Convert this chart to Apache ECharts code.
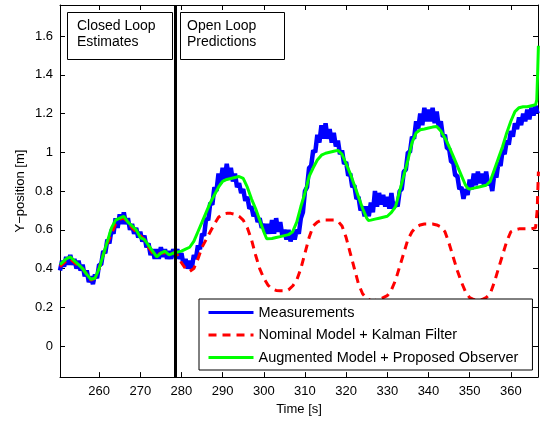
<!DOCTYPE html>
<html>
<head>
  <meta charset="UTF-8">
  <title>Y-position: measurements vs observers</title>
  <style>
    * { margin: 0; padding: 0; }
    html, body { width: 541px; height: 421px; background: #fff; }
    #chart { width: 541px; height: 421px; }
  </style>
</head>
<body>
  <div id="chart"></div>
  <script src="https://cdn.jsdelivr.net/npm/echarts@6/dist/echarts.min.js"></script>
  <script>
    // axis ticks
    const xTicks = [260, 270, 280, 290, 300, 310, 320, 330, 340, 350, 360];
    const yTicks = [0, 0.2, 0.4, 0.6, 0.8, 1, 1.2, 1.4, 1.6];
    const switchTime = 278.5; // closed loop -> open loop

    // measured Y-position [t, y] (noisy, sampled every 0.5 s)
    const measurements = [
      [250.5, 0.39],
      [251, 0.44], [251.5, 0.41], [252, 0.46], [252.5, 0.42], [253, 0.47], [253.5, 0.42],
      [254, 0.45], [254.5, 0.40], [255, 0.44], [255.5, 0.39], [256, 0.42], [256.5, 0.36],
      [257, 0.39], [257.5, 0.33], [258, 0.36], [258.5, 0.32], [259, 0.37], [259.5, 0.35],
      [260, 0.42], [260.5, 0.42], [261, 0.49], [261.5, 0.48], [262, 0.55], [262.5, 0.53],
      [263, 0.60], [263.5, 0.58], [264, 0.66], [264.5, 0.61], [265, 0.68], [265.5, 0.63],
      [266, 0.69], [266.5, 0.63], [267, 0.66], [267.5, 0.60], [268, 0.63], [268.5, 0.58],
      [269, 0.61], [269.5, 0.56], [270, 0.59], [270.5, 0.54], [271, 0.57], [271.5, 0.51],
      [272, 0.53], [272.5, 0.47], [273, 0.50], [273.5, 0.45], [274, 0.50], [274.5, 0.45],
      [275, 0.51], [275.5, 0.46], [276, 0.50], [276.5, 0.45], [277, 0.49], [277.5, 0.45],
      [278, 0.50], [278.5, 0.46], [279, 0.50], [279.5, 0.45], [280, 0.48], [280.5, 0.42],
      [281, 0.45], [281.5, 0.40], [282, 0.44], [282.5, 0.40], [283, 0.47], [283.5, 0.45],
      [284, 0.52], [284.5, 0.50], [285, 0.58], [285.5, 0.57], [286, 0.66], [286.5, 0.65],
      [287, 0.74], [287.5, 0.73], [288, 0.82], [288.5, 0.80], [289, 0.89], [289.5, 0.84],
      [290, 0.92], [290.5, 0.86], [291, 0.94], [291.5, 0.87], [292, 0.92], [292.5, 0.85],
      [293, 0.89], [293.5, 0.82], [294, 0.84], [294.5, 0.79], [295, 0.81], [295.5, 0.75],
      [296, 0.77], [296.5, 0.71], [297, 0.72], [297.5, 0.67], [298, 0.69], [298.5, 0.64],
      [299, 0.66], [299.5, 0.61], [300, 0.63], [300.5, 0.58], [301, 0.63], [301.5, 0.58],
      [302, 0.65], [302.5, 0.58], [303, 0.66], [303.5, 0.59], [304, 0.64], [304.5, 0.57],
      [305, 0.60], [305.5, 0.55], [306, 0.60], [306.5, 0.54], [307, 0.59], [307.5, 0.55],
      [308, 0.60], [308.5, 0.58], [309, 0.66], [309.5, 0.69], [310, 0.80], [310.5, 0.82],
      [311, 0.92], [311.5, 0.93], [312, 1.01], [312.5, 1.00], [313, 1.09], [313.5, 1.05],
      [314, 1.14], [314.5, 1.07], [315, 1.15], [315.5, 1.07], [316, 1.12], [316.5, 1.05],
      [317, 1.10], [317.5, 1.03], [318, 1.06], [318.5, 0.99], [319, 1.01], [319.5, 0.94],
      [320, 0.95], [320.5, 0.88], [321, 0.89], [321.5, 0.82], [322, 0.83], [322.5, 0.76],
      [323, 0.77], [323.5, 0.70], [324, 0.72], [324.5, 0.67], [325, 0.72], [325.5, 0.67],
      [326, 0.74], [326.5, 0.69], [327, 0.80], [327.5, 0.72], [328, 0.79], [328.5, 0.73],
      [329, 0.78], [329.5, 0.72], [330, 0.77], [330.5, 0.71], [331, 0.79], [331.5, 0.71],
      [332, 0.74], [332.5, 0.72], [333, 0.80], [333.5, 0.81], [334, 0.90], [334.5, 0.91],
      [335, 1.00], [335.5, 1.00], [336, 1.08], [336.5, 1.07], [337, 1.16], [337.5, 1.12],
      [338, 1.20], [338.5, 1.14], [339, 1.23], [339.5, 1.16], [340, 1.22], [340.5, 1.16],
      [341, 1.23], [341.5, 1.15], [342, 1.21], [342.5, 1.13], [343, 1.16], [343.5, 1.08],
      [344, 1.09], [344.5, 1.02], [345, 1.02], [345.5, 0.95], [346, 0.95], [346.5, 0.88],
      [347, 0.88], [347.5, 0.81], [348, 0.82], [348.5, 0.76], [349, 0.81], [349.5, 0.78],
      [350, 0.86], [350.5, 0.81], [351, 0.89], [351.5, 0.83], [352, 0.90], [352.5, 0.84],
      [353, 0.89], [353.5, 0.83], [354, 0.90], [354.5, 0.83], [355, 0.85], [355.5, 0.80],
      [356, 0.89], [356.5, 0.87], [357, 0.95], [357.5, 0.93], [358, 1.01], [358.5, 0.99],
      [359, 1.06], [359.5, 1.04], [360, 1.11], [360.5, 1.08], [361, 1.15], [361.5, 1.12],
      [362, 1.18], [362.5, 1.14], [363, 1.20], [363.5, 1.16], [364, 1.22], [364.5, 1.17],
      [365, 1.23], [365.5, 1.19], [366, 1.24], [366.5, 1.20]
    ];

    // nominal model + Kalman filter [t, y]
    const nominalKalman = [
      [250.5, 0.41], [252, 0.44], [253, 0.45], [254, 0.43], [256, 0.40], [257, 0.37],
      [258, 0.34], [259, 0.35], [260, 0.40], [261, 0.47], [262, 0.53], [263, 0.58],
      [264, 0.63], [265, 0.655], [266, 0.66], [267, 0.64], [268, 0.61], [269, 0.59],
      [270, 0.57], [271, 0.55], [272, 0.51], [273, 0.48], [274, 0.47], [275, 0.48],
      [276, 0.48], [277, 0.47], [278, 0.48], [279, 0.47], [280, 0.43], [281, 0.40],
      [282, 0.385], [283, 0.40], [284, 0.45], [285, 0.51], [286, 0.55], [287, 0.59],
      [288, 0.63], [289, 0.665], [290, 0.68], [291, 0.685], [292, 0.685], [293, 0.68],
      [294, 0.67], [295, 0.65], [296, 0.61], [297, 0.55], [298, 0.47], [299, 0.40],
      [300, 0.35], [301, 0.315], [302, 0.295], [303, 0.287], [304, 0.285], [305, 0.285],
      [306, 0.29], [307, 0.31], [308, 0.34], [309, 0.40], [310, 0.48], [311, 0.56],
      [312, 0.62], [313, 0.64], [314, 0.65], [315, 0.65], [316, 0.65], [317, 0.65],
      [318, 0.645], [319, 0.62], [320, 0.56], [321, 0.48], [322, 0.40], [323, 0.32],
      [324, 0.27], [325, 0.245], [326, 0.235], [327, 0.235], [328, 0.24], [329, 0.25],
      [330, 0.26], [331, 0.29], [332, 0.34], [333, 0.41], [334, 0.48], [335, 0.55],
      [336, 0.59], [337, 0.615], [338, 0.625], [339, 0.63], [340, 0.63], [341, 0.63],
      [342, 0.625], [343, 0.615], [344, 0.59], [345, 0.53], [346, 0.46], [347, 0.39],
      [348, 0.33], [349, 0.28], [350, 0.25], [351, 0.24], [352, 0.235], [353, 0.24],
      [354, 0.25], [355, 0.27], [356, 0.33], [357, 0.40], [358, 0.47], [359, 0.54],
      [360, 0.59], [361, 0.60], [362, 0.605], [363, 0.605], [364, 0.605], [365, 0.605],
      [366, 0.61], [366.4, 0.70], [366.7, 0.90]
    ];

    // augmented model + proposed observer [t, y]
    const augmentedObserver = [
      [250.5, 0.42], [252, 0.45], [253, 0.46], [254, 0.44], [255, 0.42], [256, 0.40],
      [257, 0.37], [258, 0.345], [259, 0.35], [260, 0.40], [261, 0.47], [262, 0.54],
      [263, 0.61], [264, 0.65], [265, 0.66], [266, 0.67], [267, 0.64], [268, 0.62],
      [269, 0.60], [270, 0.56], [271, 0.55], [272, 0.52], [273, 0.49], [274, 0.46],
      [275, 0.48], [276, 0.49], [277, 0.47], [278, 0.48], [279, 0.485], [280, 0.49],
      [281, 0.50], [282, 0.51], [283, 0.54], [284, 0.59], [285, 0.64], [286, 0.69],
      [287, 0.74], [288, 0.78], [289, 0.82], [290, 0.85], [291, 0.86], [292, 0.865],
      [293, 0.87], [294, 0.875], [295, 0.865], [296, 0.82], [297, 0.76], [298, 0.71],
      [299, 0.65], [300, 0.59], [300.7, 0.554], [302, 0.555], [303, 0.56], [304, 0.565],
      [305, 0.57], [306, 0.575], [307, 0.59], [308, 0.64], [309, 0.72], [310, 0.79],
      [311, 0.875], [312, 0.92], [313, 0.96], [314, 0.985], [315, 0.995], [316, 1.0],
      [317, 1.005], [318, 1.01], [319, 0.99], [319.7, 0.955], [320, 0.94], [321, 0.89],
      [322, 0.83], [323, 0.77], [324, 0.71], [325, 0.66], [325.4, 0.648], [326, 0.65],
      [327, 0.655], [328, 0.66], [329, 0.665], [330, 0.67], [331, 0.69], [332, 0.72],
      [333, 0.80], [334, 0.88], [335, 0.96], [336, 1.05], [337, 1.10], [338, 1.116],
      [339, 1.12], [340, 1.125], [341, 1.13], [342, 1.133], [343, 1.11], [344, 1.074],
      [345, 1.03], [346, 0.98], [347, 0.93], [348, 0.88], [349, 0.83], [349.5, 0.815],
      [350, 0.81], [351, 0.815], [352, 0.82], [353, 0.825], [354, 0.83], [355, 0.85],
      [356, 0.91], [357, 0.97], [358, 1.03], [359, 1.10], [360, 1.16], [361, 1.21],
      [362, 1.23], [363, 1.235], [364, 1.235], [365, 1.24], [366, 1.245], [366.3, 1.27],
      [366.5, 1.40], [366.7, 1.55]
    ];

    const chart = echarts.init(document.getElementById('chart'), null, { renderer: 'canvas' });

    const font = 'Arial';
    const tickCommon = {
      axisLine: { show: true, onZero: false, lineStyle: { color: '#000', width: 1 } },
      splitLine: { show: false }
    };

    const option = {
      animation: false,
      backgroundColor: '#fff',
      grid: { left: 60, right: 3, top: 5, bottom: 40 },
      xAxis: [
        Object.assign({
          type: 'value', min: 250.5, max: 366.6, position: 'bottom',
          name: 'Time [s]', nameLocation: 'middle', nameGap: 24,
          nameTextStyle: { fontFamily: font, fontSize: 13, color: '#000' },
          axisTick: { show: true, inside: true, length: 5, customValues: xTicks, lineStyle: { color: '#000' } },
          axisLabel: { customValues: xTicks, fontFamily: font, fontSize: 13, color: '#000', margin: 8 }
        }, tickCommon),
        Object.assign({
          type: 'value', min: 250.5, max: 366.6, position: 'top',
          axisTick: { show: true, inside: true, length: 5, customValues: xTicks, lineStyle: { color: '#000' } },
          axisLabel: { show: false }
        }, tickCommon)
      ],
      yAxis: [
        Object.assign({
          type: 'value', min: -0.16, max: 1.76, position: 'left',
          name: 'Y\u2212position [m]', nameLocation: 'middle', nameGap: 33, nameMoveOverlap: false,
          nameTextStyle: { fontFamily: font, fontSize: 13, color: '#000' },
          axisTick: { show: true, inside: true, length: 5, customValues: yTicks, lineStyle: { color: '#000' } },
          axisLabel: { customValues: yTicks, fontFamily: font, fontSize: 13, color: '#000', margin: 7 }
        }, tickCommon),
        Object.assign({
          type: 'value', min: -0.16, max: 1.76, position: 'right',
          axisTick: { show: true, inside: true, length: 5, customValues: yTicks, lineStyle: { color: '#000' } },
          axisLabel: { show: false }
        }, tickCommon)
      ],
      legend: {
        orient: 'vertical',
        left: 199, top: 299,
        itemWidth: 45, itemHeight: 14, itemGap: 7.5,
        padding: [6, 14, 5, 8],
        backgroundColor: '#fff',
        borderColor: '#000', borderWidth: 1, borderRadius: 0,
        itemStyle: { opacity: 0 },
        textStyle: { fontFamily: font, fontSize: 14.5, color: '#000' },
        data: [
          { name: 'Measurements', lineStyle: { width: 3 } },
          { name: 'Nominal Model + Kalman Filter', lineStyle: { width: 3 } },
          { name: 'Augmented Model + Proposed Observer', lineStyle: { width: 3 } }
        ]
      },
      graphic: [
        { type: 'rect', left: 67, top: 12, z: 10, shape: { width: 105, height: 47 },
          style: { fill: '#fff', stroke: '#000', lineWidth: 1 } },
        { type: 'text', left: 77, top: 18, z: 11,
          style: { text: 'Closed Loop\nEstimates', font: '14px Arial', lineHeight: 16, fill: '#000' } },
        { type: 'rect', left: 180, top: 12, z: 10, shape: { width: 104, height: 47 },
          style: { fill: '#fff', stroke: '#000', lineWidth: 1 } },
        { type: 'text', left: 187, top: 18, z: 11,
          style: { text: 'Open Loop\nPredictions', font: '14px Arial', lineHeight: 16, fill: '#000' } }
      ],
      series: [
        {
          name: 'Measurements', type: 'line', data: measurements,
          symbol: 'none', lineStyle: { color: '#0000ff', width: 4.5 }, itemStyle: { color: '#0000ff' }, z: 2
        },
        {
          name: 'Nominal Model + Kalman Filter', type: 'line', data: nominalKalman,
          symbol: 'none', lineStyle: { color: '#ff0000', width: 3, type: [8, 6] }, itemStyle: { color: '#ff0000' }, z: 3
        },
        {
          name: 'Augmented Model + Proposed Observer', type: 'line', data: augmentedObserver,
          symbol: 'none', lineStyle: { color: '#00ff00', width: 3 }, itemStyle: { color: '#00ff00' }, z: 4,
          markLine: {
            silent: true, symbol: 'none', label: { show: false },
            lineStyle: { color: '#000', width: 3, type: 'solid' },
            data: [{ xAxis: switchTime }]
          }
        }
      ]
    };

    chart.setOption(option);
  </script>
</body>
</html>
